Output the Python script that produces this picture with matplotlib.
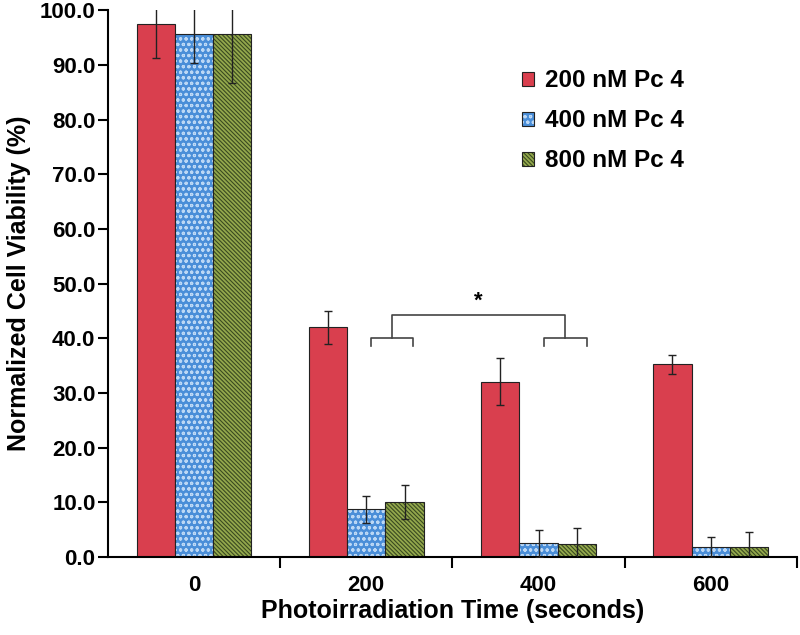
import matplotlib
matplotlib.use("Agg")
import matplotlib.pyplot as plt
import numpy as np

categories = ["0", "200", "400", "600"]
series_names = ["200 nM Pc 4", "400 nM Pc 4", "800 nM Pc 4"]
vals_200 = [97.5, 42.0, 32.0, 35.2]
vals_400 = [95.6, 8.7, 2.5, 1.8]
vals_800 = [95.6, 10.1, 2.4, 1.8]
err_200 = [6.2, 3.0, 4.3, 1.7]
err_400 = [5.3, 2.5, 2.5, 1.9]
err_800 = [9.0, 3.1, 2.8, 2.8]
yticks = [0, 10, 20, 30, 40, 50, 60, 70, 80, 90, 100]

plt.rcParams['font.family'] = ['Liberation Sans', 'DejaVu Sans']
plt.rcParams['hatch.linewidth'] = 0.8

fig = plt.figure(figsize=(8, 6.35), dpi=100)
ax = fig.add_axes([0.135, 0.123, 0.861, 0.861])

x = np.arange(len(categories))
w = 0.222
colors = ["#d93f4e", "#4a8ed8", "#93a84c"]
hatches = [None, "ooo", "\\\\\\\\\\\\\\\\"]
hcolors = [None, "#bcd8f5", "#3a4a20"]
data = [vals_200, vals_400, vals_800]
errs = [err_200, err_400, err_800]
for i in range(3):
    bars = ax.bar(x + (i - 1) * w, data[i], w, color=colors[i], edgecolor="#222222",
                  linewidth=0.8, label=series_names[i], zorder=2)
    if hatches[i]:
        for b in bars:
            b.set_hatch(hatches[i])
            b._hatch_color = matplotlib.colors.to_rgba(hcolors[i])
    ax.errorbar(x + (i - 1) * w, data[i], yerr=errs[i], fmt="none", ecolor="#222222",
                elinewidth=1.0, capsize=3, capthick=1.0, zorder=3)

# significance bracket
l1, r1 = 1 + 0.03, 1 + 0.27
l2, r2 = 2 + 0.03, 2 + 0.28
yb, ytick, ytop = 40.0, 38.6, 44.2
bc = "#444444"
for l, r in [(l1, r1), (l2, r2)]:
    ax.plot([l, l, r, r], [ytick, yb, yb, ytick], color=bc, lw=1.2, zorder=4)
c1, c2 = (l1 + r1) / 2, (l2 + r2) / 2
ax.plot([c1, c1, c2, c2], [yb, ytop, ytop, yb], color=bc, lw=1.2, zorder=4)
ax.text((c1 + c2) / 2, ytop + 0.6, "*", ha="center", va="bottom", fontsize=16, fontweight="bold")

ax.set_xlim(-0.5, 3.5)
ax.set_ylim(0, 100)
ax.set_yticks(yticks)
ax.set_yticklabels([f"{v:.1f}" for v in yticks], fontsize=16, fontweight="bold")
ax.set_xticks(x)
ax.set_xticklabels(categories, fontsize=16, fontweight="bold")
ax.tick_params(axis="x", which="major", length=0, pad=13)
ax.set_xticks([0.5, 1.5, 2.5, 3.5], minor=True)
ax.tick_params(axis="x", which="minor", length=8, width=1.5, direction="out")
ax.tick_params(axis="y", length=7, width=1.5, direction="out", pad=2)
for s in ["top", "right"]:
    ax.spines[s].set_visible(False)
ax.spines["left"].set_linewidth(1.5)
ax.spines["bottom"].set_linewidth(1.5)

ax.set_ylabel("Normalized Cell Viability (%)", fontsize=18, fontweight="bold", labelpad=6)
ax.set_xlabel("Photoirradiation Time (seconds)", fontsize=18, fontweight="bold", labelpad=2)

leg = ax.legend(loc="upper left", bbox_to_anchor=(0.601, 0.892), frameon=False,
                prop={"size": 17.5, "weight": "bold"}, handlelength=0.5, handleheight=0.5,
                labelspacing=0.7, handletextpad=0.45, borderpad=0, borderaxespad=0)

fig.savefig("out.png", dpi=100)
